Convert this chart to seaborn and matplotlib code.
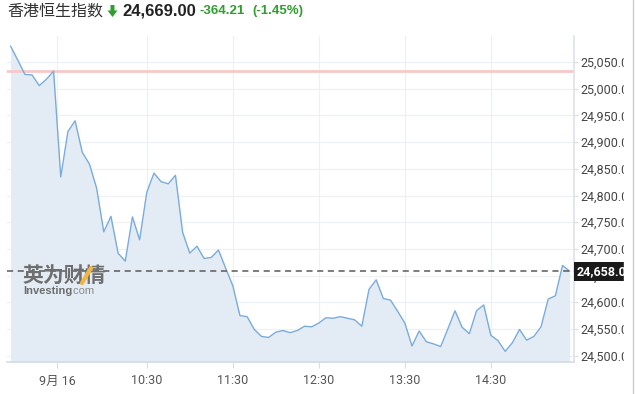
import numpy as np
import pandas as pd
import matplotlib
matplotlib.use("Agg")
import matplotlib.pyplot as plt
import matplotlib.transforms as mtransforms
from matplotlib.patches import Rectangle, Polygon
from matplotlib.lines import Line2D
import seaborn as sns

# ---- data ----
title_name = "香港恒生指数"
last_price = "24,669.00"
change_text = "-364.21"
change_pct = "(-1.45%)"
prev_close = 25033.21
current_marker = 24658.0

values = [25080, 25054, 25027, 25026, 25006, 25018, 25033, 24835, 24920, 24940,
          24881, 24859, 24814, 24732, 24761, 24692, 24677, 24760, 24717, 24806,
          24842, 24826, 24822, 24838, 24731, 24692, 24705, 24682, 24684, 24698,
          24664, 24631, 24575, 24573, 24549, 24536, 24534, 24544, 24547, 24543,
          24547, 24555, 24554, 24561, 24571, 24570, 24573, 24570, 24567, 24555,
          24624, 24642, 24607, 24604, 24583, 24561, 24518, 24546, 24526, 24522,
          24517, 24550, 24584, 24553, 24541, 24584, 24595, 24538, 24528, 24508,
          24524, 24549, 24529, 24536, 24554, 24606, 24612, 24669, 24658]
start_time = "2025-09-16 08:55"
tick_times = ["2025-09-16 09:27:30", "2025-09-16 10:30", "2025-09-16 11:30",
              "2025-09-16 12:30", "2025-09-16 13:30", "2025-09-16 14:30"]
tick_labels = ["9月 16", "10:30", "11:30", "12:30", "13:30", "14:30"]
y_ticks = [24500, 24550, 24600, 24650, 24700, 24750, 24800, 24850, 24900, 24950, 25000, 25050]

times = pd.date_range(start_time, periods=len(values), freq="5min")
df = pd.DataFrame({"time": times, "value": values})

# ---- style ----
sns.set_theme(style="white")
plt.rcParams["font.family"] = ["Roboto", "Noto Sans CJK SC", "DejaVu Sans"]

W, H = 636, 394
fig = plt.figure(figsize=(W / 100, H / 100), dpi=100)
ax_left, ax_right, ax_top, ax_bottom = 7, 574, 36, 362
ax = fig.add_axes([ax_left / W, (H - ax_bottom) / H, (ax_right - ax_left) / W, (ax_bottom - ax_top) / H])

line_color = "#79acdb"
fill_color = "#e3ebf4"
grid_color = "#eef1f4"
green = "#2f9e2f"
LAT = ["Liberation Sans", "DejaVu Sans"]

ax.fill_between(df["time"], df["value"], 24400, color=fill_color, lw=0, zorder=1)
sns.lineplot(data=df, x="time", y="value", ax=ax, color=line_color, lw=1.0, zorder=3)

ax.set_xlim(pd.Timestamp("2025-09-16 08:52:30"), pd.Timestamp("2025-09-16 15:28:00"))
ax.set_ylim(24488, 25099)

ax.axhline(prev_close, color="#f6c9c9", lw=2.0, zorder=2)
ax.axhline(current_marker, color="#5a5a5a", lw=1.1, dashes=(4, 3), zorder=4)

ax.set_yticks(y_ticks)
ax.set_xticks([pd.Timestamp(t) for t in tick_times])
ax.set_xticklabels(tick_labels)
ax.set_yticklabels([f"{v:,.2f}" for v in y_ticks])
ax.grid(True, color=grid_color, lw=0.9, zorder=0)
ax.set_axisbelow(True)

ax.yaxis.tick_right()
ax.tick_params(axis="y", which="both", direction="out", length=3, width=0.8, color="#d8dde3",
               labelsize=9, labelcolor="#444444", pad=1.5, right=True, left=False)
ax.tick_params(axis="x", direction="out", length=4, width=0.8, color="#d8dde3",
               labelsize=9, labelcolor="#555555", pad=5, bottom=True)
ax.set_xlabel("")
ax.set_ylabel("")

for s in ["left", "top"]:
    ax.spines[s].set_visible(False)
ax.spines["right"].set_color("#dfe4ea")
ax.spines["bottom"].set_color("#d6dde5")

# current value label box
trans = mtransforms.blended_transform_factory(ax.transAxes, ax.transData)
ax.text(1.005, current_marker, f"{current_marker:,.2f}", transform=trans, ha="left", va="center",
        color="white", fontsize=9, fontweight="bold", family=["Roboto", "DejaVu Sans"],
        bbox=dict(boxstyle="square,pad=0.25", fc="#1a1a1a", ec="none"), zorder=10, clip_on=False)

# watermark
fig.text(22 / W, 1 - 275 / H, "英为财情", fontsize=15, fontweight="bold", color="#6e6e6e",
         ha="left", va="center", family=["Noto Sans CJK SC", "DejaVu Sans"])
fig.text(23 / W, 1 - 291 / H, "Investing", fontsize=8, fontweight="bold", color="#6e6e6e",
         ha="left", va="center", family=LAT)
fig.text(70 / W, 1 - 291 / H, ".com", fontsize=8, color="#8a8a8a",
         ha="left", va="center", family=LAT)
fig.add_artist(Line2D([82 / W, 91 / W], [1 - 283 / H, 1 - 268 / H], color="#f2b640", lw=3,
                      transform=fig.transFigure, zorder=5))

# title
fig.text(7 / W, 1 - 11 / H, title_name, fontsize=11.5, color="#333333", ha="left", va="center",
         family=["Noto Sans CJK SC", "DejaVu Sans"])
arrow = [(110.5, 5), (114.5, 5), (114.5, 10.5), (117.5, 10.5), (112.5, 17), (107.5, 10.5), (110.5, 10.5)]
fig.add_artist(Polygon([(x, H - y) for x, y in arrow], closed=True, transform=mtransforms.IdentityTransform(),
                       fc=green, ec="none"))
fig.text(122 / W, 1 - 11 / H, last_price, fontsize=12, fontweight="bold", color="#222222",
         ha="left", va="center", family=LAT)
fig.text(200 / W, 1 - 11 / H, change_text, fontsize=9.5, fontweight="bold", color=green,
         ha="left", va="center", family=LAT)
fig.text(252 / W, 1 - 11 / H, change_pct, fontsize=9.5, fontweight="bold", color=green,
         ha="left", va="center", family=LAT)

# right clipping edge and border
fig.add_artist(Rectangle((624 / W, 0), 12 / W, 1, transform=fig.transFigure, color="white", zorder=20))
fig.add_artist(Line2D([632.5 / W, 632.5 / W], [0, 1], color="#cccccc", lw=1.0,
                      transform=fig.transFigure, zorder=21))

fig.savefig("out.png", dpi=100)
